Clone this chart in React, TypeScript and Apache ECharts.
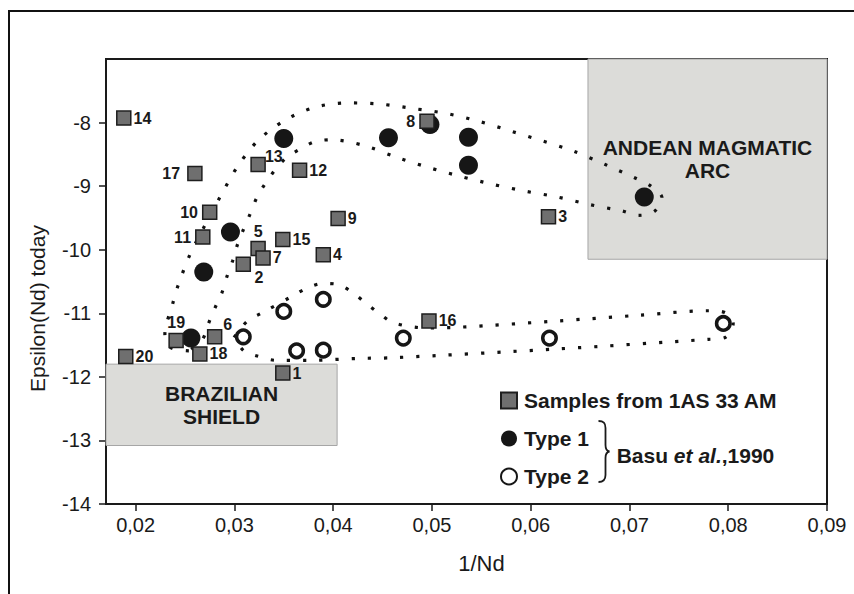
import React, { useEffect, useRef } from "react";
import * as echarts from "echarts";

// ---- data ----
const sampleIds = ["1", "2", "3", "4", "5", "6", "7", "8", "9", "10", "11", "12", "13", "14", "15", "16", "17", "18", "19", "20"];
const sampleX = [0.0349, 0.0309, 0.0618, 0.039, 0.0324, 0.028, 0.0329, 0.0495, 0.0405, 0.0275, 0.0268, 0.0366, 0.0324, 0.0188, 0.0349, 0.0497, 0.026, 0.0265, 0.0241, 0.019];
const sampleY = [-11.94, -10.23, -9.48, -10.08, -9.98, -11.37, -10.13, -7.98, -9.51, -9.41, -9.8, -8.75, -8.66, -7.93, -9.84, -11.12, -8.8, -11.64, -11.43, -11.68];

const type1X = [0.035, 0.0456, 0.0498, 0.0537, 0.0537, 0.0715, 0.0296, 0.0269, 0.0256];
const type1Y = [-8.25, -8.24, -8.03, -8.23, -8.67, -9.17, -9.72, -10.35, -11.39];

const type2X = [0.0309, 0.035, 0.039, 0.0363, 0.039, 0.0471, 0.0619, 0.0795];
const type2Y = [-11.37, -10.97, -10.78, -11.59, -11.58, -11.39, -11.39, -11.16];

// dotted envelopes (closed loops)
const upperEnvX = [0.02539, 0.02357, 0.02296, 0.02377, 0.02428, 0.02549, 0.02704, 0.02855, 0.03024, 0.03234, 0.03503, 0.03813, 0.04144, 0.0448, 0.04814, 0.05155, 0.05474, 0.05812, 0.06121, 0.06435, 0.06755, 0.07069, 0.07217, 0.07329, 0.07251, 0.07092, 0.06924, 0.06597, 0.06267, 0.05946, 0.0561, 0.05272, 0.04952, 0.04632, 0.04311, 0.03982, 0.03813, 0.03661, 0.0352, 0.03409, 0.03308, 0.03227, 0.03159, 0.03092, 0.03031, 0.02981, 0.02923, 0.02873, 0.02805, 0.02738, 0.02677, 0.02539];
const upperEnvY = [-11.59, -11.54, -11.33, -10.84, -10.57, -10.08, -9.61, -9.17, -8.71, -8.29, -7.97, -7.76, -7.69, -7.71, -7.78, -7.86, -7.98, -8.14, -8.29, -8.45, -8.66, -8.88, -9.0, -9.18, -9.4, -9.46, -9.39, -9.29, -9.17, -9.08, -8.97, -8.84, -8.7, -8.54, -8.36, -8.27, -8.3, -8.42, -8.56, -8.75, -8.97, -9.18, -9.44, -9.68, -9.92, -10.18, -10.43, -10.68, -10.91, -11.16, -11.41, -11.59];

const lowerEnvX = [0.02996, 0.03132, 0.03284, 0.03587, 0.03739, 0.03897, 0.04056, 0.0421, 0.04339, 0.04473, 0.04612, 0.04935, 0.05269, 0.0628, 0.07109, 0.07797, 0.07969, 0.0805, 0.07969, 0.07797, 0.0628, 0.04599, 0.04258, 0.03752, 0.03419, 0.03247, 0.03095, 0.02996];
const lowerEnvY = [-11.38, -11.12, -10.99, -10.73, -10.6, -10.53, -10.55, -10.69, -10.85, -11.01, -11.15, -11.23, -11.22, -11.12, -11.03, -10.96, -10.99, -11.16, -11.38, -11.41, -11.56, -11.7, -11.71, -11.74, -11.74, -11.68, -11.59, -11.38];

// shaded fields
const brazilBoxX = [0.017, 0.0404];
const brazilBoxY = [-11.8, -13.08];
const andeanBoxX = [0.0658, 0.09];
const andeanBoxY = [-7, -10.15];

const xTicks = [0.02, 0.03, 0.04, 0.05, 0.06, 0.07, 0.08, 0.09];
const yTicks = [-14, -13, -12, -11, -10, -9, -8];

// ---- styling ----
const FONT = "'Liberation Sans', Arial, sans-serif";
const INK = "#1a1a1a";

type Place = { position: any; distance?: number; offset?: number[] };
const labelPlace: Record<string, Place> = {
  "1": { position: "right", distance: 2 },
  "2": { position: "inside", offset: [15.6, 12.7] },
  "3": { position: "right", distance: 2 },
  "4": { position: "right", distance: 2 },
  "5": { position: "top", distance: 1 },
  "6": { position: "inside", offset: [13, -12.4] },
  "7": { position: "right", distance: 2 },
  "8": { position: "left", distance: 4 },
  "9": { position: "right", distance: 2 },
  "10": { position: "left", distance: 4 },
  "11": { position: "left", distance: 4 },
  "12": { position: "right", distance: 2 },
  "13": { position: "inside", offset: [15.7, -8.3] },
  "14": { position: "right", distance: 2 },
  "15": { position: "right", distance: 2 },
  "16": { position: "right", distance: 2 },
  "17": { position: "left", distance: 7 },
  "18": { position: "right", distance: 2 },
  "19": { position: "top", distance: 2 },
  "20": { position: "right", distance: 2 },
};

const BRACE = "M0,0 C5,0 7,2 7,7 L7,24 C7,28 8,30 11,30.5 C8,31 7,33 7,37 L7,54 C7,59 5,61 0,61";

export default function App() {
  const ref = useRef<HTMLDivElement>(null);
  useEffect(() => {
    if (!ref.current) return;
    try {
      echarts.graphic.registerShape("brace", echarts.graphic.extendPath(BRACE, {}) as any);
    } catch (e) {}
    const chart = echarts.init(ref.current, undefined, { renderer: "svg" });

    const pairs = (xs: number[], ys: number[]) => xs.map((x, i) => [x, ys[i]]);

    const sampleData = sampleIds.map((id, i) => {
      const p = labelPlace[id] || { position: "right", distance: 2 };
      return {
        name: id,
        value: [sampleX[i], sampleY[i]],
        label: { position: p.position, distance: p.distance ?? 2, offset: p.offset },
      };
    });

    const option: any = {
      animation: false,
      backgroundColor: "#ffffff",
      textStyle: { fontFamily: FONT },
      grid: {
        left: 106,
        top: 59,
        right: 27,
        bottom: 90,
        show: true,
        borderColor: INK,
        borderWidth: 2,
        backgroundColor: "transparent",
      },
      legend: {
        data: ["Samples from 1AS 33 AM", "Type 1", "Type 2"],
        orient: "vertical",
        left: 495,
        top: 385,
        itemWidth: 16,
        itemHeight: 16,
        itemGap: 17,
        selectedMode: false,
        textStyle: { fontSize: 21, fontWeight: "bold", color: INK, fontFamily: FONT, padding: [0, 0, 0, 2] },
      },
      xAxis: {
        type: "value",
        min: 0.017,
        max: 0.09,
        name: "1/Nd",
        nameLocation: "middle",
        nameGap: 48,
        nameTextStyle: { fontSize: 22, color: INK, fontFamily: FONT, padding: [0, 0, 0, 30] },
        axisLine: { show: true, lineStyle: { color: INK, width: 2 } },
        axisTick: { show: true, inside: false, length: 7, lineStyle: { color: INK, width: 1.5 }, customValues: xTicks },
        axisLabel: {
          fontSize: 20,
          color: INK,
          fontFamily: FONT,
          margin: 11,
          customValues: xTicks,
          formatter: (v: number) => v.toFixed(2).replace(".", ","),
        },
        splitLine: { show: false },
      },
      yAxis: {
        type: "value",
        min: -14,
        max: -7,
        name: "Epsilon(Nd) today",
        nameLocation: "middle",
        nameGap: 58,
        nameTextStyle: { fontSize: 21, color: INK, fontFamily: FONT, padding: [0, 54, 0, 0] },
        axisLine: { show: true, lineStyle: { color: INK, width: 2 } },
        axisTick: { show: true, inside: false, length: 7, lineStyle: { color: INK, width: 1.5 }, customValues: yTicks },
        axisLabel: { fontSize: 20, color: INK, fontFamily: FONT, margin: 15, customValues: yTicks },
        splitLine: { show: false },
      },
      series: [
        {
          name: "fields",
          type: "scatter",
          data: [],
          z: 1,
          silent: true,
          markArea: {
            silent: true,
            itemStyle: { color: "#dcdcd9", borderColor: "#a6a6a6", borderWidth: 1 },
            label: {
              show: true,
              position: "inside",
              fontSize: 21,
              fontWeight: "bold",
              color: INK,
              fontFamily: FONT,
              lineHeight: 23.5,
              align: "center",
            },
            data: [
              [
                { name: "BRAZILIAN\nSHIELD", coord: [brazilBoxX[0], brazilBoxY[0]] },
                { coord: [brazilBoxX[1], brazilBoxY[1]] },
              ],
              [
                { name: "ANDEAN MAGMATIC\nARC", coord: [andeanBoxX[0], andeanBoxY[0]] },
                { coord: [andeanBoxX[1], andeanBoxY[1]] },
              ],
            ],
          },
        },
        {
          name: "envUpper",
          type: "line",
          z: 2,
          smooth: 0.3,
          showSymbol: false,
          silent: true,
          data: pairs(upperEnvX, upperEnvY),
          lineStyle: { color: "#111", width: 3.2, type: [3.2, 13], cap: "butt" },
        },
        {
          name: "envLower",
          type: "line",
          z: 2,
          smooth: 0.3,
          showSymbol: false,
          silent: true,
          data: pairs(lowerEnvX, lowerEnvY),
          lineStyle: { color: "#111", width: 3.2, type: [3.2, 13], cap: "butt" },
        },
        {
          name: "Type 1",
          type: "scatter",
          z: 3,
          symbol: "circle",
          symbolSize: 19,
          itemStyle: { color: "#161616", opacity: 1 },
          data: pairs(type1X, type1Y),
        },
        {
          name: "Type 2",
          type: "scatter",
          z: 3,
          symbol: "circle",
          symbolSize: 13.5,
          itemStyle: { color: "#ffffff", borderColor: "#161616", borderWidth: 3.5, opacity: 1 },
          data: pairs(type2X, type2Y),
        },
        {
          name: "Samples from 1AS 33 AM",
          type: "scatter",
          z: 4,
          symbol: "rect",
          symbolSize: 14,
          itemStyle: { color: "#6f6f6f", borderColor: "#1e1e1e", borderWidth: 1.5, opacity: 1 },
          label: {
            show: true,
            formatter: "{b}",
            fontSize: 16,
            fontWeight: "bold",
            color: INK,
            fontFamily: FONT,
          },
          data: sampleData,
        },
      ],
      graphic: [
        {
          type: "rect",
          silent: true,
          shape: { x: 9, y: 11, width: 900, height: 700 },
          style: { fill: "none", stroke: "#111", lineWidth: 2 },
          z: 0,
        },
        {
          type: "brace",
          x: 598.5,
          y: 421,
          style: { fill: "none", stroke: INK, lineWidth: 1.8 },
          z: 10,
        },
        {
          type: "text",
          x: 616.7,
          y: 455,
          style: {
            text: "{a|Basu }{i|et al.}{a|,1990}",
            verticalAlign: "middle",
            fill: INK,
            rich: {
              a: { fontSize: 21, fontWeight: "bold", fontFamily: FONT, fill: INK },
              i: { fontSize: 21, fontWeight: "bold", fontStyle: "italic", fontFamily: FONT, fill: INK },
            },
          },
          z: 10,
        },
      ],
    };

    chart.setOption(option);
    return () => chart.dispose();
  }, []);

  return (
    <div
      ref={ref}
      style={{ position: "absolute", left: 0, top: 0, width: 854, height: 594, background: "#fff" }}
    />
  );
}
